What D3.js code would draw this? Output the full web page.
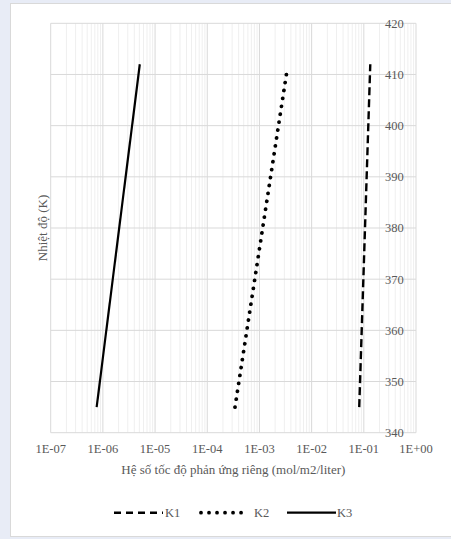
<!DOCTYPE html>
<html>
<head>
<meta charset="utf-8">
<script src="https://cdn.jsdelivr.net/npm/d3@7"></script>
<style>
  html, body { margin: 0; padding: 0; background: #e8ecf6; }
  svg { display: block; }
  svg text { font-family: "Liberation Serif", "DejaVu Serif", serif; fill: #595959; }
</style>
</head>
<body>
<svg id="chart" width="451" height="539"></svg>
<script>
// Reaction rate coefficients vs temperature for three species
const temps1 = [345, 412];
const k1 = [0.0817, 0.133];
const temps2 = [345, 411];
const k2 = [3.4e-4, 3.4e-3];
const temps3 = [345, 412];
const k3 = [7.6e-7, 5.1e-6];

const seriesNames = ["K1", "K2", "K3"];
const xTickLabels = ["1E-07", "1E-06", "1E-05", "1E-04", "1E-03", "1E-02", "1E-01", "1E+00"];
const yTicks = [340, 350, 360, 370, 380, 390, 400, 410, 420];

const xTitle = "Hệ số tốc độ phản ứng riêng (mol/m2/liter)";
const yTitle = "Nhiệt độ (K)";

const FONT = "'Liberation Serif', 'DejaVu Serif', serif";

const svg = d3.select("#chart");

// chart frame
svg.append("rect")
  .attr("x", 10.5).attr("y", 3.5)
  .attr("width", 460).attr("height", 533)
  .attr("fill", "#ffffff").attr("stroke", "#d9d9d9");

const plot = { left: 50.7, right: 416, top: 23.3, bottom: 432.7 };

const x = d3.scaleLog().domain([1e-7, 1]).range([plot.left, plot.right]);
const y = d3.scaleLinear().domain([340, 420]).range([plot.bottom, plot.top]);

const g = svg.append("g");

// minor vertical gridlines
const minor = [];
for (let e = -7; e < 0; e++) {
  for (let m = 2; m <= 9; m++) minor.push(m * Math.pow(10, e));
}
g.append("g").selectAll("line").data(minor).join("line")
  .attr("x1", d => x(d)).attr("x2", d => x(d))
  .attr("y1", plot.top).attr("y2", plot.bottom)
  .attr("stroke", "#efefef").attr("stroke-width", 1);

// major vertical gridlines
const majors = xTickLabels.map(s => +s);
g.append("g").selectAll("line").data(majors).join("line")
  .attr("x1", d => x(d)).attr("x2", d => x(d))
  .attr("y1", plot.top).attr("y2", plot.bottom)
  .attr("stroke", "#d9d9d9").attr("stroke-width", 1);

// horizontal gridlines
g.append("g").selectAll("line").data(yTicks).join("line")
  .attr("x1", plot.left).attr("x2", plot.right)
  .attr("y1", d => y(d)).attr("y2", d => y(d))
  .attr("stroke", "#d9d9d9").attr("stroke-width", 1);

// x tick labels
g.append("g").selectAll("text").data(xTickLabels).join("text")
  .attr("x", d => x(+d)).attr("y", 453)
  .attr("text-anchor", "middle")
  .attr("font-family", FONT)
  .attr("font-size", 12.5)
  .text(d => d);

// y tick labels (drawn inside the right side of the plot)
g.append("g").selectAll("text").data(yTicks).join("text")
  .attr("x", 385).attr("y", d => y(d))
  .attr("dy", "0.35em")
  .attr("font-family", FONT)
  .attr("font-size", 12.5)
  .text(d => d);

// axis titles
svg.append("text")
  .attr("x", (plot.left + plot.right) / 2).attr("y", 474)
  .attr("text-anchor", "middle")
  .attr("font-family", FONT).attr("font-size", 13)
  .text(xTitle);

svg.append("text")
  .attr("transform", `translate(47, ${(plot.top + plot.bottom) / 2}) rotate(-90)`)
  .attr("text-anchor", "middle")
  .attr("font-family", FONT).attr("font-size", 13)
  .text(yTitle);

// series
const styles = [
  { dash: "8 4", width: 2.4, cap: "butt" },
  { dash: "0.01 8", width: 3.8, cap: "round" },
  { dash: null, width: 2.2, cap: "butt" }
];
const series = [
  temps1.map((t, i) => [k1[i], t]),
  temps2.map((t, i) => [k2[i], t]),
  temps3.map((t, i) => [k3[i], t])
];
const line = d3.line().x(d => x(d[0])).y(d => y(d[1]));

series.forEach((s, i) => {
  g.append("path")
    .datum(s)
    .attr("d", line)
    .attr("fill", "none")
    .attr("stroke", "#000")
    .attr("stroke-width", styles[i].width)
    .attr("stroke-linecap", styles[i].cap)
    .attr("stroke-dasharray", styles[i].dash);
});

// legend
const legendX = [114, 201, 287];
const legend = svg.append("g");
seriesNames.forEach((name, i) => {
  const lx = legendX[i];
  const sampleLen = i === 1 ? 44 : 49;
  legend.append("line")
    .attr("x1", lx).attr("x2", lx + sampleLen)
    .attr("y1", 512.7).attr("y2", 512.7)
    .attr("stroke", "#000")
    .attr("stroke-width", styles[i].width)
    .attr("stroke-linecap", styles[i].cap)
    .attr("stroke-dasharray", i === 0 ? "7 5" : styles[i].dash);
  legend.append("text")
    .attr("x", i === 0 ? lx + 51 : i === 1 ? lx + 53 : lx + 50)
    .attr("y", 512.7).attr("dy", "0.35em")
    .attr("font-family", FONT)
    .attr("font-size", 12.5)
    .text(name);
});
</script>
</body>
</html>
